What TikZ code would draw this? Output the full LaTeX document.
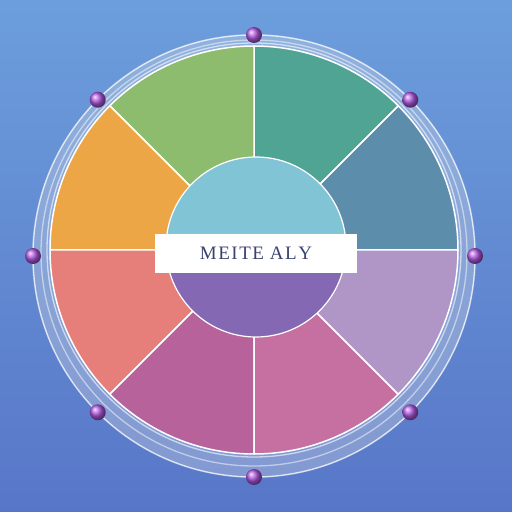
\documentclass[tikz,border=0pt]{standalone}
\usepackage{fontspec}
\setmainfont{Liberation Serif}
\usetikzlibrary{calc}
\definecolor{bgtop}{RGB}{108,158,220}
\definecolor{bgbot}{RGB}{88,118,200}
\definecolor{pA}{RGB}{92,142,172}
\definecolor{pB}{RGB}{80,164,148}
\definecolor{pC}{RGB}{142,188,110}
\definecolor{pD}{RGB}{236,166,70}
\definecolor{pE}{RGB}{230,127,122}
\definecolor{pF}{RGB}{184,98,156}
\definecolor{pG}{RGB}{198,112,162}
\definecolor{pH}{RGB}{176,150,198}
\definecolor{cTop}{RGB}{128,196,214}
\definecolor{cBot}{RGB}{132,104,180}
\definecolor{dotc}{RGB}{178,90,225}
\definecolor{txt}{RGB}{58,66,110}
\tikzset{
  panel/.style={draw=white, line width=1.5pt, line join=round},
  ringline/.style={draw=white, opacity=0.75, line width=1.3pt},
  dotball/.style={ball color=dotc},
  label/.style={fill=white, minimum width=202pt, minimum height=39pt, inner sep=0pt,
     text=txt, font=\fontsize{19}{22}\selectfont}
}
\begin{document}
\begin{tikzpicture}[x=1pt,y=1pt]
\shade[top color=bgtop, bottom color=bgbot] (0,0) rectangle (512,512);
\useasboundingbox (0,0) rectangle (512,512);
\coordinate (C) at (254,262);
\coordinate (R) at (254,256);
% outer band
\fill[white!80!gray, opacity=0.3, even odd rule] (R) circle (222) (C) circle (204);
\draw[ringline] (R) circle (221);
\draw[ringline, opacity=0.5] ([shift={(0,-3)}]C) circle (213);
\draw[ringline, opacity=0.6] (C) circle (207);
% panels
\foreach \a/\c [count=\i] in {0/pA,45/pB,90/pC,135/pD,180/pE,225/pF,270/pG,315/pH}{
  \pgfmathsetmacro{\s}{\a}
  \pgfmathsetmacro{\e}{\a+45}
  \path[panel, fill=\c] ([shift={(C)}]\s:80) coordinate (in\i)
     -- ([shift={(C)}]\s:204) coordinate (out\i)
     arc[start angle=\s, end angle=\e, radius=204]
     -- ([shift={(C)}]\e:80)
     arc[start angle=\e, end angle=\s, radius=80] -- cycle;
}
% inner circle
\coordinate (IC) at (256,265);
\fill[cTop] ([shift={(IC)}]0:90) arc[start angle=0, end angle=180, radius=90] -- cycle;
\fill[cBot] ([shift={(IC)}]180:90) arc[start angle=180, end angle=360, radius=90] -- cycle;
\draw[white, line width=1.2pt] (IC) circle (90);
% label
\node[label] (lab) at (256,258.5) {M\kern1.5pt E\kern1.5pt I\kern1.5pt T\kern1.5pt E\kern6pt A\kern1.5pt L\kern1.5pt Y};
% dots
\foreach \a [count=\i] in {0,45,90,135,180,225,270,315}{
  \shade[dotball] ([shift={(R)}]\a:221) circle (8);
}
\end{tikzpicture}
\end{document}
